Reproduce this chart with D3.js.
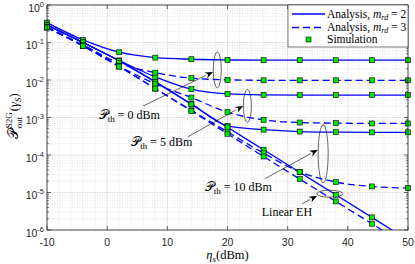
<!DOCTYPE html>
<html>
<head>
<meta charset="utf-8">
<script src="https://cdn.jsdelivr.net/npm/d3@7"></script>
<style>
  body { margin: 0; background: #fff; }
  svg text { font-family: "Liberation Serif", "DejaVu Serif", serif; fill: #000; }
  .tick-lab { font-family: "Liberation Sans", Arial, sans-serif; fill: #262626; }
</style>
</head>
<body>
<svg id="chart" width="415" height="264"></svg>
<script>
// --- data ---
var etaDb = [-10, -4, 2, 8, 14, 20, 26, 32, 38, 44, 50];

// Analysis, m_rd = 2 (solid)
var pth0Mrd2  = [0.338, 0.117, 0.0550, 0.0395, 0.0358, 0.0343, 0.0337, 0.0337, 0.0337, 0.0337, 0.0337];
var pth5Mrd2  = [0.293, 0.0995, 0.0333, 0.0121, 5.69e-3, 4.26e-3, 4.01e-3, 3.94e-3, 3.94e-3, 3.94e-3, 3.94e-3];
var pth10Mrd2 = [0.293, 0.100, 0.0323, 8.9e-3, 2.31e-3, 6.0e-4, 4.75e-4, 4.22e-4, 4.07e-4, 4.02e-4, 4.02e-4];
var linMrd2   = [0.293, 0.100, 0.0323, 8.9e-3, 2.24e-3, 5.47e-4, 1.38e-4, 3.46e-5, 8.71e-6, 2.17e-6, 5.35e-7];

// Analysis, m_rd = 3 (dashed)
var pth0Mrd3  = [0.260, 0.0861, 0.0280, 0.0157, 0.0112, 0.0101, 9.82e-3, 9.82e-3, 9.82e-3, 9.82e-3, 9.82e-3];
var pth5Mrd3  = [0.252, 0.0809, 0.0233, 7.87e-3, 3.40e-3, 1.39e-3, 8.66e-4, 7.34e-4, 7.07e-4, 6.94e-4, 6.94e-4];
var pth10Mrd3 = [0.252, 0.0809, 0.0228, 5.9e-3, 1.55e-3, 4.15e-4, 1.12e-4, 3.57e-5, 1.90e-5, 1.45e-5, 1.31e-5];
var linMrd3   = [0.252, 0.0809, 0.0228, 5.9e-3, 1.50e-3, 3.67e-4, 9.12e-5, 2.28e-5, 5.78e-6, 1.47e-6, 3.70e-7];

var curves = [
  { vals: pth0Mrd2, dashed: false }, { vals: pth5Mrd2, dashed: false },
  { vals: pth10Mrd2, dashed: false }, { vals: linMrd2, dashed: false },
  { vals: pth0Mrd3, dashed: true }, { vals: pth5Mrd3, dashed: true },
  { vals: pth10Mrd3, dashed: true }, { vals: linMrd3, dashed: true }
];

var xTicks = [-10, 0, 10, 20, 30, 40, 50];
var yExps = [0, -1, -2, -3, -4, -5, -6];

// annotations: ellipses (data centre, pixel radii) and arrows (data from -> to)
var ellipses = [
  { eta: 18.3, v: 1.86e-2, rx: 4, ry: 18 },
  { eta: 23.3, v: 2.04e-3, rx: 4, ry: 16.5 },
  { eta: 35.9, v: 1.08e-4, rx: 5, ry: 29 },
  { eta: 37.0, v: 9.3e-6, rx: 13, ry: 3.5 }
];
var arrows = [
  { from: [6.0, 2.04e-3], to: [17.6, 1.64e-2] },
  { from: [13.4, 3.05e-4], to: [22.6, 2.04e-3] },
  { from: [26.2, 2.32e-5], to: [35.0, 1.38e-4] },
  { from: [32.4, 5.0e-6], to: [34.9, 8.2e-6] }
];
var labels = [
  { eta: -1.4, v: 9.2e-4, sub: "th", rest: " = 0 dBm" },
  { eta: 4.0, v: 1.76e-4, sub: "th", rest: " = 5 dBm" },
  { eta: 16.2, v: 1.11e-5, sub: "th", rest: " = 10 dBm" },
  { eta: 25.7, v: 2.4e-6, plain: "Linear EH" }
];

// --- setup ---
var mLeft = 47, mRight = 408, mTop = 5, mBottom = 230;
var svg = d3.select("#chart");
var x = d3.scaleLinear().domain([-10, 50]).range([mLeft, mRight]);
var y = d3.scaleLog().domain([1e-6, 1]).range([mBottom, mTop]);
var axisCol = "#262626";

svg.append("rect").attr("x", mLeft).attr("y", mTop).attr("width", mRight - mLeft)
  .attr("height", mBottom - mTop).attr("fill", "#fff");

// grid
var grid = svg.append("g");
for (var e = -6; e < 0; e++) {
  for (var k = 2; k <= 9; k++) {
    grid.append("line").attr("x1", mLeft).attr("x2", mRight)
      .attr("y1", y(k * Math.pow(10, e))).attr("y2", y(k * Math.pow(10, e)))
      .attr("stroke", "#d4d4d4").attr("stroke-width", 0.6).attr("stroke-dasharray", "1,1.5");
  }
}
for (var m = -8; m < 50; m += 2) {
  if (m % 10 === 0) continue;
  grid.append("line").attr("y1", mTop).attr("y2", mBottom)
    .attr("x1", x(m)).attr("x2", x(m))
    .attr("stroke", "#d4d4d4").attr("stroke-width", 0.6).attr("stroke-dasharray", "1,1.5");
}
yExps.forEach(function(p) {
  grid.append("line").attr("x1", mLeft).attr("x2", mRight)
    .attr("y1", y(Math.pow(10, p))).attr("y2", y(Math.pow(10, p)))
    .attr("stroke", "#dcdcdc").attr("stroke-width", 0.7);
});
xTicks.forEach(function(t) {
  grid.append("line").attr("y1", mTop).attr("y2", mBottom)
    .attr("x1", x(t)).attr("x2", x(t))
    .attr("stroke", "#dcdcdc").attr("stroke-width", 0.7);
});

// curves
svg.append("clipPath").attr("id", "clip").append("rect")
  .attr("x", mLeft).attr("y", mTop).attr("width", mRight - mLeft).attr("height", mBottom - mTop);

var line = d3.line()
  .x(function(d) { return x(d[0]); })
  .y(function(d) { return y(d[1]); })
  .curve(d3.curveMonotoneX);

var plot = svg.append("g").attr("clip-path", "url(#clip)");
curves.forEach(function(c) {
  var pts = etaDb.map(function(t, i) { return [t, c.vals[i]]; });
  plot.append("path").attr("d", line(pts))
    .attr("fill", "none").attr("stroke", "#0000ff").attr("stroke-width", 1.3)
    .attr("stroke-dasharray", c.dashed ? "7,4" : null);
});

// annotations
var ann = svg.append("g");
ellipses.forEach(function(el) {
  ann.append("ellipse").attr("cx", x(el.eta)).attr("cy", y(el.v))
    .attr("rx", el.rx).attr("ry", el.ry)
    .attr("fill", "none").attr("stroke", "#000").attr("stroke-width", 0.6);
});
arrows.forEach(function(a) {
  var x1 = x(a.from[0]), y1 = y(a.from[1]), x2 = x(a.to[0]), y2 = y(a.to[1]);
  var ang = Math.atan2(y2 - y1, x2 - x1);
  var L = 8, hw = 3.2;
  var bx = x2 - L * Math.cos(ang), by = y2 - L * Math.sin(ang);
  ann.append("line").attr("x1", x1).attr("y1", y1).attr("x2", bx).attr("y2", by)
    .attr("stroke", "#000").attr("stroke-width", 0.6);
  var nx = -Math.sin(ang), ny = Math.cos(ang);
  var notchX = x2 - L * 0.7 * Math.cos(ang), notchY = y2 - L * 0.7 * Math.sin(ang);
  ann.append("path")
    .attr("d", "M" + x2 + "," + y2 +
      "L" + (bx + nx * hw) + "," + (by + ny * hw) +
      "L" + notchX + "," + notchY +
      "L" + (bx - nx * hw) + "," + (by - ny * hw) + "Z")
    .attr("fill", "#000");
});

// markers
var mk = svg.append("g");
curves.forEach(function(c) {
  etaDb.forEach(function(t, i) {
    if (c.vals[i] < 1e-6) return;
    mk.append("rect").attr("x", x(t) - 2.5).attr("y", y(c.vals[i]) - 2.5)
      .attr("width", 5).attr("height", 5)
      .attr("fill", "#00e600").attr("stroke", "#000").attr("stroke-width", 0.6);
  });
});

// labels
labels.forEach(function(lb) {
  var t = svg.append("text").attr("x", x(lb.eta)).attr("y", y(lb.v)).style("font-size", "12px");
  if (lb.plain) { t.text(lb.plain); return; }
  t.append("tspan").style("font-size", "13px").text("\uD835\uDCAB");
  t.append("tspan").attr("dy", 3).style("font-size", "9px").text(lb.sub);
  t.append("tspan").attr("dy", -3).text(lb.rest);
});

// axes box and ticks
var ax = svg.append("g");
ax.append("rect").attr("x", mLeft).attr("y", mTop).attr("width", mRight - mLeft)
  .attr("height", mBottom - mTop).attr("fill", "none").attr("stroke", axisCol).attr("stroke-width", 0.8);
xTicks.forEach(function(t) {
  ax.append("line").attr("x1", x(t)).attr("x2", x(t)).attr("y1", mBottom).attr("y2", mBottom - 4)
    .attr("stroke", axisCol).attr("stroke-width", 0.7);
  ax.append("line").attr("x1", x(t)).attr("x2", x(t)).attr("y1", mTop).attr("y2", mTop + 4)
    .attr("stroke", axisCol).attr("stroke-width", 0.7);
  ax.append("text").attr("class", "tick-lab").attr("x", x(t)).attr("y", mBottom + 16)
    .attr("text-anchor", "middle").style("font-size", "10.5px").text(t);
});
for (var e2 = -6; e2 < 0; e2++) {
  for (var k2 = 2; k2 <= 9; k2++) {
    var yy = y(k2 * Math.pow(10, e2));
    ax.append("line").attr("x1", mLeft).attr("x2", mLeft + 2).attr("y1", yy).attr("y2", yy)
      .attr("stroke", axisCol).attr("stroke-width", 0.6);
    ax.append("line").attr("x1", mRight).attr("x2", mRight - 2).attr("y1", yy).attr("y2", yy)
      .attr("stroke", axisCol).attr("stroke-width", 0.6);
  }
}
yExps.forEach(function(p) {
  var yy = y(Math.pow(10, p));
  ax.append("line").attr("x1", mLeft).attr("x2", mLeft + 4).attr("y1", yy).attr("y2", yy)
    .attr("stroke", axisCol).attr("stroke-width", 0.7);
  ax.append("line").attr("x1", mRight).attr("x2", mRight - 4).attr("y1", yy).attr("y2", yy)
    .attr("stroke", axisCol).attr("stroke-width", 0.7);
  var t = ax.append("text").attr("class", "tick-lab").attr("x", 44).attr("y", yy + 6.5)
    .attr("text-anchor", "end").style("font-size", "10.5px");
  t.append("tspan").text("10");
  t.append("tspan").attr("dy", -5).style("font-size", "7.5px").text(p === 0 ? "0" : "-" + (-p));
});

// x label
var xl = svg.append("text").attr("x", x(20)).attr("y", 259).attr("text-anchor", "middle")
  .style("font-size", "12.5px");
xl.append("tspan").style("font-style", "italic").text("\u03B7");
xl.append("tspan").attr("dy", 2.5).style("font-size", "9px").style("font-style", "italic").text("s");
xl.append("tspan").attr("dy", -2.5).text("(dBm)");

// y label (stacked sub/superscript)
var yg = svg.append("g").attr("transform", "translate(18,116) rotate(-90)");
var inner = yg.append("g");
var p1 = inner.append("text").attr("x", 0).attr("y", 0).style("font-size", "14px").text("\uD835\uDCAB");
var w1 = p1.node().getComputedTextLength();
var sup = inner.append("text").attr("x", w1 + 0.5).attr("y", -6).style("font-size", "9px").text("S2G");
var sub = inner.append("text").attr("x", w1 + 0.5).attr("y", 3.5).style("font-size", "9px").text("out");
var w2 = Math.max(sup.node().getComputedTextLength(), sub.node().getComputedTextLength());
var rest = inner.append("text").attr("x", w1 + w2 + 1.5).attr("y", 0).style("font-size", "12.5px");
rest.append("tspan").text("(");
rest.append("tspan").style("font-style", "italic").text("\u03B3");
rest.append("tspan").attr("dy", 3).style("font-size", "9px").style("font-style", "italic").text("S");
rest.append("tspan").attr("dy", -3).text(")");
var total = w1 + w2 + 1.5 + rest.node().getComputedTextLength();
inner.attr("transform", "translate(" + (-total / 2) + ",0)");

// legend
var lg = svg.append("g");
lg.append("rect").attr("x", 288).attr("y", 5).attr("width", 120).attr("height", 42)
  .attr("fill", "#fff").attr("stroke", axisCol).attr("stroke-width", 0.6);
var legRows = [
  { y: 14, dashed: false, kind: "line", mval: "2" },
  { y: 27.5, dashed: true, kind: "line", mval: "3" },
  { y: 39.5, kind: "marker" }
];
legRows.forEach(function(r) {
  if (r.kind === "line") {
    lg.append("line").attr("x1", 292).attr("x2", 325).attr("y1", r.y).attr("y2", r.y)
      .attr("stroke", "#0000ff").attr("stroke-width", 1.3)
      .attr("stroke-dasharray", r.dashed ? "7,4" : null);
    var t = lg.append("text").attr("x", 327).attr("y", r.y + 3.5).style("font-size", "11.5px");
    t.append("tspan").text("Analysis, ");
    t.append("tspan").style("font-style", "italic").text("m");
    t.append("tspan").attr("dy", 2).style("font-size", "8px").style("font-style", "italic").text("rd");
    t.append("tspan").attr("dy", -2).text(" = " + r.mval);
  } else {
    lg.append("rect").attr("x", 308.5 - 2.5).attr("y", r.y - 2.5).attr("width", 5).attr("height", 5)
      .attr("fill", "#00e600").attr("stroke", "#000").attr("stroke-width", 0.6);
    lg.append("text").attr("x", 327).attr("y", r.y + 3.5).style("font-size", "11.5px").text("Simulation");
  }
});
</script>
</body>
</html>
